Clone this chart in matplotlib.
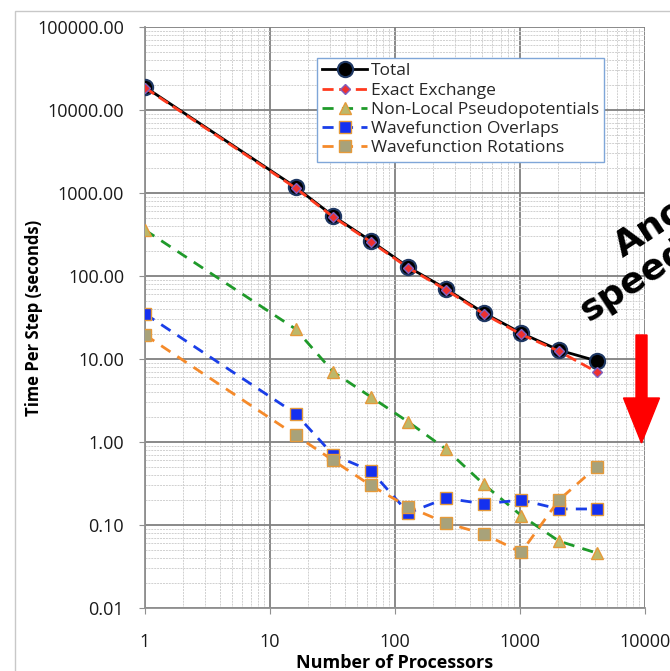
import matplotlib
matplotlib.use("Agg")
from matplotlib import pyplot as plt
from matplotlib import patches
import matplotlib.ticker as mticker
import numpy as np

# processors and time per step (seconds)
procs = [1, 16, 32, 64, 128, 256, 512, 1024, 2048, 4096]
total = [18900, 1180, 528, 265, 128, 70, 36, 20.5, 12.8, 9.5]
exact_exchange = [18500, 1150, 515, 258, 125, 68, 35, 19.8, 12.4, 7.0]
nonlocal_pp = [358, 23, 7.0, 3.5, 1.74, 0.82, 0.31, 0.13, 0.064, 0.046]
wf_overlaps = [35, 2.2, 0.70, 0.45, 0.14, 0.21, 0.18, 0.20, 0.156, 0.156]
wf_rotations = [19.5, 1.21, 0.60, 0.30, 0.165, 0.106, 0.078, 0.047, 0.20, 0.50]

y_ticks = [0.01, 0.1, 1, 10, 100, 1000, 10000, 100000]
x_ticks = [1, 10, 100, 1000, 10000]

plt.rcParams['font.family'] = ['Open Sans', 'DejaVu Sans']

fig = plt.figure(figsize=(6.70, 6.71), dpi=100)
ax = fig.add_axes([145/670, 1 - 608/671, 500/670, 581/671])

# chart area border
fig.patches.append(patches.Rectangle((15/670, -0.1), 1.0, 1.1 - 11/671,
                                     transform=fig.transFigure, fill=False,
                                     edgecolor='#c8c8c8', linewidth=1.0))

ax.plot(procs, total, color='black', linewidth=2, marker='o', markersize=11,
        markerfacecolor='black', markeredgecolor='#1f3864', markeredgewidth=1.5,
        label='Total', zorder=5)
ax.plot(procs, exact_exchange, color='#ff3b1f', linewidth=2, linestyle=(0, (4, 2)),
        marker='D', markersize=5, markerfacecolor='#ee3030', markeredgecolor='#8060c0',
        label='Exact Exchange', zorder=6)
ax.plot(procs, nonlocal_pp, color='#1f9a2a', linewidth=2, linestyle=(0, (4, 3)),
        marker='^', markersize=9, markerfacecolor='#bdb86a', markeredgecolor='#e59a3a',
        label='Non-Local Pseudopotentials', zorder=4)
ax.plot(procs, wf_overlaps, color='#1a3ee8', linewidth=2, linestyle=(0, (4, 3)),
        marker='s', markersize=9, markerfacecolor='#1430f0', markeredgecolor='#e59a3a',
        label='Wavefunction Overlaps', zorder=4)
ax.plot(procs, wf_rotations, color='#f58a2a', linewidth=2, linestyle=(0, (4, 3)),
        marker='s', markersize=9, markerfacecolor='#a8a27a', markeredgecolor='#e59a3a',
        label='Wavefunction Rotations', zorder=4)

ax.set_xscale('log')
ax.set_yscale('log')
ax.set_xlim(1, 10000)
ax.set_ylim(0.01, 100000)

ax.xaxis.set_major_locator(mticker.FixedLocator(x_ticks))
ax.xaxis.set_major_formatter(mticker.FixedFormatter([str(t) for t in x_ticks]))
ax.xaxis.set_minor_locator(mticker.LogLocator(base=10, subs=np.arange(2, 10), numticks=20))
ax.yaxis.set_major_locator(mticker.FixedLocator(y_ticks))
ax.yaxis.set_major_formatter(mticker.FixedFormatter(['%.2f' % t for t in y_ticks]))
ax.yaxis.set_minor_locator(mticker.LogLocator(base=10, subs=np.arange(2, 10), numticks=20))
ax.yaxis.set_minor_formatter(mticker.NullFormatter())
ax.xaxis.set_minor_formatter(mticker.NullFormatter())

ax.grid(which='major', color='#808080', linewidth=1.3, zorder=1)
ax.grid(which='minor', color='#d0d0d0', linewidth=0.7, linestyle=(0, (2, 1)), zorder=0)
ax.set_axisbelow(True)

for side in ['top', 'right']:
    ax.spines[side].set_visible(False)
for side in ['left', 'bottom']:
    ax.spines[side].set_color('#909090')
    ax.spines[side].set_linewidth(1.3)

ax.tick_params(which='major', length=4, color='#909090', labelsize=13, labelcolor='#1a1a1a')
ax.tick_params(which='minor', length=0)
ax.tick_params(axis='x', pad=14)
ax.tick_params(axis='y', pad=11)

ax.set_xlabel('Number of Processors', fontsize=13, fontweight='bold')
ax.xaxis.set_label_coords(0.5, -(654 - 608) / 581)
ax.set_ylabel('Time Per Step (seconds)', fontsize=12, fontweight='bold')
ax.yaxis.set_label_coords((43 - 145) / 500, 0.5)

leg = ax.legend(loc='upper left', bbox_to_anchor=(172/500, 1 - 31/581), fontsize=12.5,
                frameon=True, fancybox=False, borderpad=0.3, labelspacing=0.18,
                handlelength=2.6, handletextpad=0.2, borderaxespad=0)
leg.get_frame().set_edgecolor('#7fa6d8')
leg.get_frame().set_linewidth(1.0)
leg.get_frame().set_facecolor('white')
leg.get_frame().set_alpha(1)
for t in leg.get_texts():
    t.set_color('#262626')

# annotation cut off at the right edge of the slide
fig.text(623/670, 1 - 258/671, 'Another', fontsize=26, fontweight='bold', rotation=33,
         rotation_mode='anchor', ha='left', va='baseline', family=['DejaVu Sans'])
fig.text(588/670, 1 - 322/671, 'speedup', fontsize=26, fontweight='bold', rotation=33,
         rotation_mode='anchor', ha='left', va='baseline', family=['DejaVu Sans'])
fig.patches.append(patches.FancyArrow(641.5/670, 1 - 335/671, 0, -108/671,
                                      width=11/670, head_width=36/670, head_length=45/671,
                                      length_includes_head=True, color='#ff0000',
                                      transform=fig.transFigure))

fig.savefig('out.png', dpi=100)
